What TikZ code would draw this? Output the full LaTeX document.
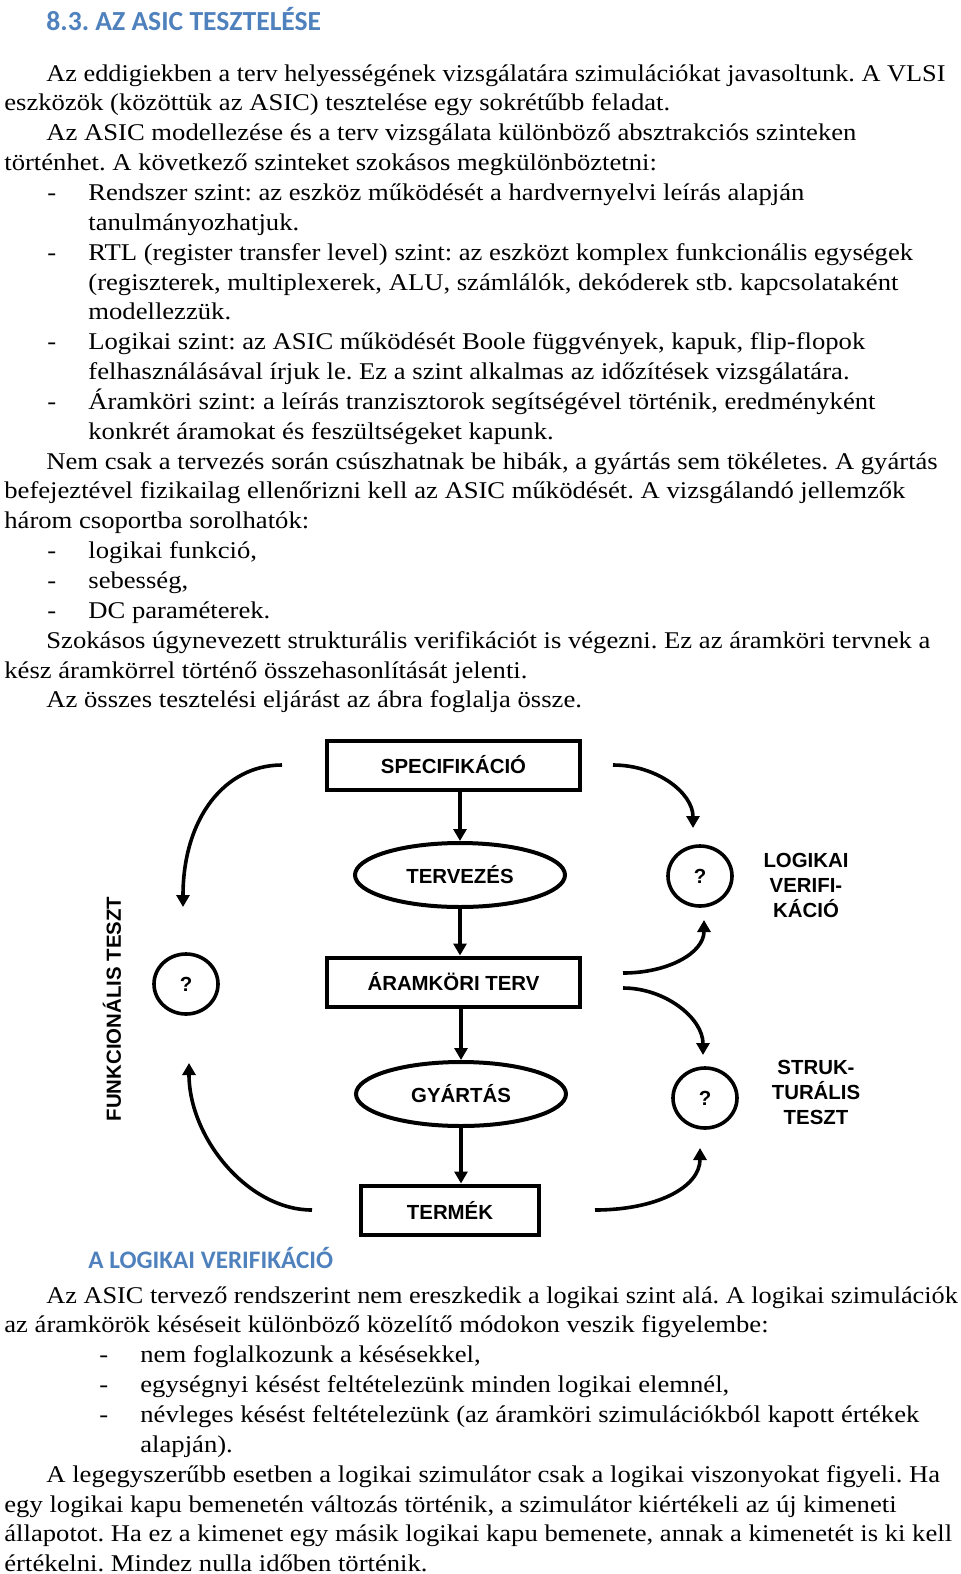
\documentclass[tikz,border=0pt]{standalone}
\usepackage{fontspec}
\setmainfont{Liberation Serif}[FakeStretch=1.11]
\newfontfamily\narrowfont{Liberation Serif}[FakeStretch=1.095]
\newfontfamily\headfont{Carlito}
\newfontfamily\diafont{Liberation Sans}
\usetikzlibrary{shapes.geometric,arrows.meta,calc}
\definecolor{headblue}{RGB}{79,129,189}
\frenchspacing
\tikzset{
  bodyline/.style={anchor=base west,inner sep=0pt,font=\fontsize{12}{14}\selectfont},
  tightline/.style={bodyline,font=\narrowfont\fontsize{12}{14}\selectfont},
  headline/.style={anchor=base west,inner sep=0pt,text=headblue,font=\headfont\bfseries\fontsize{12.6}{14}\selectfont},
  diatext/.style={font=\diafont\bfseries\fontsize{10.2}{12.5}\selectfont},
  flowbox/.style={diatext,draw,line width=2pt,minimum width=126.5pt,minimum height=24.5pt,inner sep=0pt},
  flowoval/.style={diatext,ellipse,draw,line width=2pt,minimum width=105pt,minimum height=32pt,inner sep=0pt},
  qmark/.style={diatext,ellipse,draw,line width=1.8pt,minimum width=32pt,minimum height=30pt,inner sep=0pt},
  sidelabel/.style={diatext,align=center,inner sep=0pt},
  flowarrow/.style={line width=1.8pt,-{Triangle[length=6pt,width=6.5pt]}}
}
\begin{document}
\begin{tikzpicture}[x=0.5pt,y=-0.5pt]
\useasboundingbox (0,0) rectangle (960,1574);

% text above the figure
\node[headline,font=\headfont\bfseries\fontsize{13.8}{14}\selectfont] (h1) at (46,30) {8.3. AZ ASIC TESZTELÉSE};
\node[tightline] (t2) at (46,81) {Az eddigiekben a terv helyességének vizsgálatára szimulációkat javasoltunk. A VLSI};
\node[bodyline] (t3) at (4,110.9) {eszközök (közöttük az ASIC) tesztelése egy sokrétűbb feladat.};
\node[bodyline] (t4) at (46,140.7) {Az ASIC modellezése és a terv vizsgálata különböző absztrakciós szinteken};
\node[bodyline] (t5) at (4,170.6) {történhet. A következő szinteket szokásos megkülönböztetni:};
\node[bodyline] (d6) at (47,200.4) {-};
\node[bodyline] (t6) at (88,200.4) {Rendszer szint: az eszköz működését a hardvernyelvi leírás alapján};
\node[bodyline] (t7) at (88,230.3) {tanulmányozhatjuk.};
\node[bodyline] (d8) at (47,260.1) {-};
\node[bodyline] (t8) at (88,260.1) {RTL (register transfer level) szint: az eszközt komplex funkcionális egységek};
\node[bodyline] (t9) at (88,290) {(regiszterek, multiplexerek, ALU, számlálók, dekóderek stb. kapcsolataként};
\node[bodyline] (t10) at (88,319.8) {modellezzük.};
\node[bodyline] (d11) at (47,349.7) {-};
\node[bodyline] (t11) at (88,349.7) {Logikai szint: az ASIC működését Boole függvények, kapuk, flip-flopok};
\node[bodyline] (t12) at (88,379.5) {felhasználásával írjuk le. Ez a szint alkalmas az időzítések vizsgálatára.};
\node[bodyline] (d13) at (47,409.4) {-};
\node[bodyline] (t13) at (88,409.4) {Áramköri szint: a leírás tranzisztorok segítségével történik, eredményként};
\node[bodyline] (t14) at (88,439.2) {konkrét áramokat és feszültségeket kapunk.};
\node[bodyline] (t15) at (46,469.1) {Nem csak a tervezés során csúszhatnak be hibák, a gyártás sem tökéletes. A gyártás};
\node[bodyline] (t16) at (4,498.9) {befejeztével fizikailag ellenőrizni kell az ASIC működését. A vizsgálandó jellemzők};
\node[bodyline] (t17) at (4,528.8) {három csoportba sorolhatók:};
\node[bodyline] (d18) at (47,558.6) {-};
\node[bodyline] (t18) at (88,558.6) {logikai funkció,};
\node[bodyline] (d19) at (47,588.5) {-};
\node[bodyline] (t19) at (88,588.5) {sebesség,};
\node[bodyline] (d20) at (47,618.3) {-};
\node[bodyline] (t20) at (88,618.3) {DC paraméterek.};
\node[bodyline] (t21) at (46,648.2) {Szokásos úgynevezett strukturális verifikációt is végezni. Ez az áramköri tervnek a};
\node[bodyline] (t22) at (4,678) {kész áramkörrel történő összehasonlítását jelenti.};
\node[bodyline] (t23) at (46,707.9) {Az összes tesztelési eljárást az ábra foglalja össze.};

% the figure
\node[flowbox] (spec) at (453.5,765) {SPECIFIKÁCIÓ};
\node[flowoval] (terv) at (460,875) {TERVEZÉS};
\node[flowbox] (aramk) at (453.5,982) {ÁRAMKÖRI TERV};
\node[flowoval] (gyart) at (461,1094) {GYÁRTÁS};
\node[flowbox,minimum width=89pt] (termek) at (450,1210) {TERMÉK};

\node[qmark] (qleft) at (186,984) {?};
\node[qmark] (qtop) at (700,876) {?};
\node[qmark] (qbot) at (705,1098) {?};

\node[diatext,rotate=90,inner sep=0pt] (funk) at (112,1009) {FUNKCIONÁLIS TESZT};
\node[sidelabel] (logver) at (806,885) {LOGIKAI\\VERIFI-\\KÁCIÓ};
\node[sidelabel] (struk) at (816,1092) {STRUK-\\TURÁLIS\\TESZT};

\draw[flowarrow] (spec.south -| terv.north) -- (terv.north);
\draw[flowarrow] (terv.south) -- (terv.south |- aramk.north);
\draw[flowarrow] (aramk.south -| gyart.north) -- (gyart.north);
\draw[flowarrow] (gyart.south) -- (gyart.south |- termek.north);

\coordinate (l1a) at (282,765);
\coordinate (l1b) at (183,907);
\coordinate (l2a) at (312,1210);
\coordinate (l2b) at (189,1063);
\coordinate (r1a) at (613,765);
\coordinate (r1b) at (693,828);
\coordinate (r2a) at (623,973);
\coordinate (r2b) at (704,920);
\coordinate (r3a) at (623,988);
\coordinate (r3b) at (703,1055);
\coordinate (r4a) at (595,1210);
\coordinate (r4b) at (700,1148);

\draw[flowarrow] (l1a) .. controls (225,765) and (183,818) .. (l1b);
\draw[flowarrow] (l2a) .. controls (248,1210) and (189,1138) .. (l2b);
\draw[flowarrow] (r1a) .. controls (657,765) and (693,793) .. (r1b);
\draw[flowarrow] (r2a) .. controls (668,973) and (704,953) .. (r2b);
\draw[flowarrow] (r3a) .. controls (665,988) and (703,1018) .. (r3b);
\draw[flowarrow] (r4a) .. controls (655,1210) and (700,1188) .. (r4b);

% text below the figure
\node[headline] (h2) at (88,1268) {A LOGIKAI VERIFIKÁCIÓ};
\node[tightline] (b1) at (46,1303) {Az ASIC tervező rendszerint nem ereszkedik a logikai szint alá. A logikai szimulációk};
\node[bodyline] (b2) at (4,1332.9) {az áramkörök késéseit különböző közelítő módokon veszik figyelembe:};
\node[bodyline] (bd3) at (99,1362.7) {-};
\node[bodyline] (b3) at (140,1362.7) {nem foglalkozunk a késésekkel,};
\node[bodyline] (bd4) at (99,1392.6) {-};
\node[bodyline] (b4) at (140,1392.6) {egységnyi késést feltételezünk minden logikai elemnél,};
\node[bodyline] (bd5) at (99,1422.4) {-};
\node[bodyline] (b5) at (140,1422.4) {névleges késést feltételezünk (az áramköri szimulációkból kapott értékek};
\node[bodyline] (b6) at (140,1452.3) {alapján).};
\node[bodyline] (b7) at (46,1482.1) {A legegyszerűbb esetben a logikai szimulátor csak a logikai viszonyokat figyeli. Ha};
\node[bodyline] (b8) at (4,1512) {egy logikai kapu bemenetén változás történik, a szimulátor kiértékeli az új kimeneti};
\node[bodyline] (b9) at (4,1541.8) {állapotot. Ha ez a kimenet egy másik logikai kapu bemenete, annak a kimenetét is ki kell};
\node[bodyline] (b10) at (4,1571.7) {értékelni. Mindez nulla időben történik.};
\end{tikzpicture}
\end{document}
